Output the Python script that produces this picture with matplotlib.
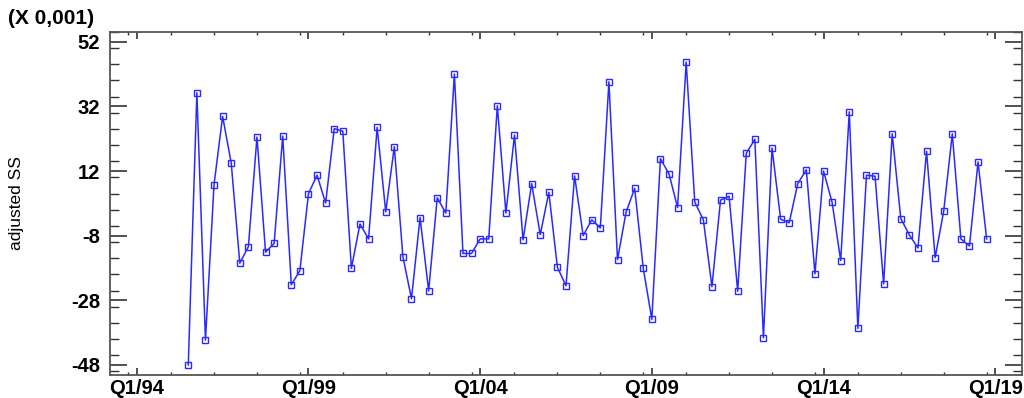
import matplotlib
matplotlib.use("Agg")
import matplotlib.pyplot as plt
from matplotlib.ticker import MultipleLocator, FixedLocator

# quarterly series, Q3/95 .. Q4/18, values in thousandths
start_year = 1995
start_quarter = 3
adjusted_ss = [
    -48.0, 36.2, -40.3, 7.8, 28.9, 14.5, -16.5, -11.4, 22.5, -13.1,
    -10.4, 22.8, -23.2, -18.8, 5.0, 10.7, 2.1, 25.1, 24.3, -18.1,
    -4.4, -9.0, 25.5, -0.6, 19.5, -14.5, -27.5, -2.4, -25.1, 3.7,
    -1.0, 42.0, -13.5, -13.5, -9.0, -9.0, 32.2, -1.0, 23.1, -9.3,
    8.1, -7.7, 5.4, -17.8, -23.5, 10.5, -8.0, -3.1, -5.6, 39.6,
    -15.4, -0.7, 6.6, -18.1, -33.9, 15.8, 11.1, 0.7, 45.7, 2.4,
    -3.1, -23.8, 3.0, 4.2, -25.2, 17.5, 21.8, -39.6, 19.1, -2.9,
    -4.0, 8.1, 12.4, -19.8, 12.0, 2.3, -15.7, 30.3, -36.7, 10.7,
    10.4, -22.9, 23.5, -2.7, -7.8, -11.8, 18.1, -14.8, -0.4, 23.5,
    -9.0, -11.2, 14.8, -9.0,
]
tick_years = [1994, 1999, 2004, 2009, 2014, 2019]
tick_labels = ["Q1/%02d" % (y % 100) for y in tick_years]
y_ticks = [52, 32, 12, -8, -28, -48]

t = [start_year + (start_quarter - 1 + i) / 4.0 for i in range(len(adjusted_ss))]

plt.rcParams['font.family'] = ['Liberation Sans', 'DejaVu Sans']

fig = plt.figure(figsize=(10.24, 3.98), dpi=100)
ax = fig.add_axes([110 / 1024, 1 - 375 / 398, 912 / 1024, 343 / 398])

ax.plot(t, adjusted_ss, color='#2a2aff', lw=1.1, marker='s', markersize=4.2,
        markerfacecolor='none', markeredgecolor='#2a2aff', markeredgewidth=1.0)

ax.set_xlim(1993.22, 2019.78)
ax.set_ylim(-51.1, 55.0)

ax.xaxis.set_major_locator(FixedLocator(tick_years))
ax.xaxis.set_minor_locator(MultipleLocator(1.25))
ax.set_xticks(tick_years)
ax.set_xticklabels(tick_labels, fontweight='bold', fontsize=14.5)
ax.yaxis.set_major_locator(FixedLocator(y_ticks))
ax.yaxis.set_minor_locator(MultipleLocator(5))
ax.set_yticks(y_ticks)
ax.set_yticklabels([str(v) for v in y_ticks], fontweight='bold', fontsize=14.5)

ax.tick_params(axis='x', which='major', direction='in', length=5, width=1.2,
               top=True, bottom=True, color='#333333', pad=3)
ax.tick_params(axis='x', which='minor', direction='in', length=2.5, width=1.0,
               top=True, bottom=True, color='#333333')
ax.tick_params(axis='y', which='major', direction='in', length=12, width=1.2,
               left=True, right=True, color='#333333', pad=7)
ax.tick_params(axis='y', which='minor', direction='in', length=6.5, width=1.0,
               left=True, right=True, color='#333333')

for s in ax.spines.values():
    s.set_color('#555555')
    s.set_linewidth(1.3)

ax.set_ylabel('adjusted SS', fontsize=12.5)
ax.yaxis.set_label_coords(-0.094, 0.5)

fig.text(8 / 1024, 1 - 19 / 398, '(X 0,001)', fontsize=15, fontweight='bold',
         ha='left', va='center')

fig.savefig('out.png', dpi=100)
